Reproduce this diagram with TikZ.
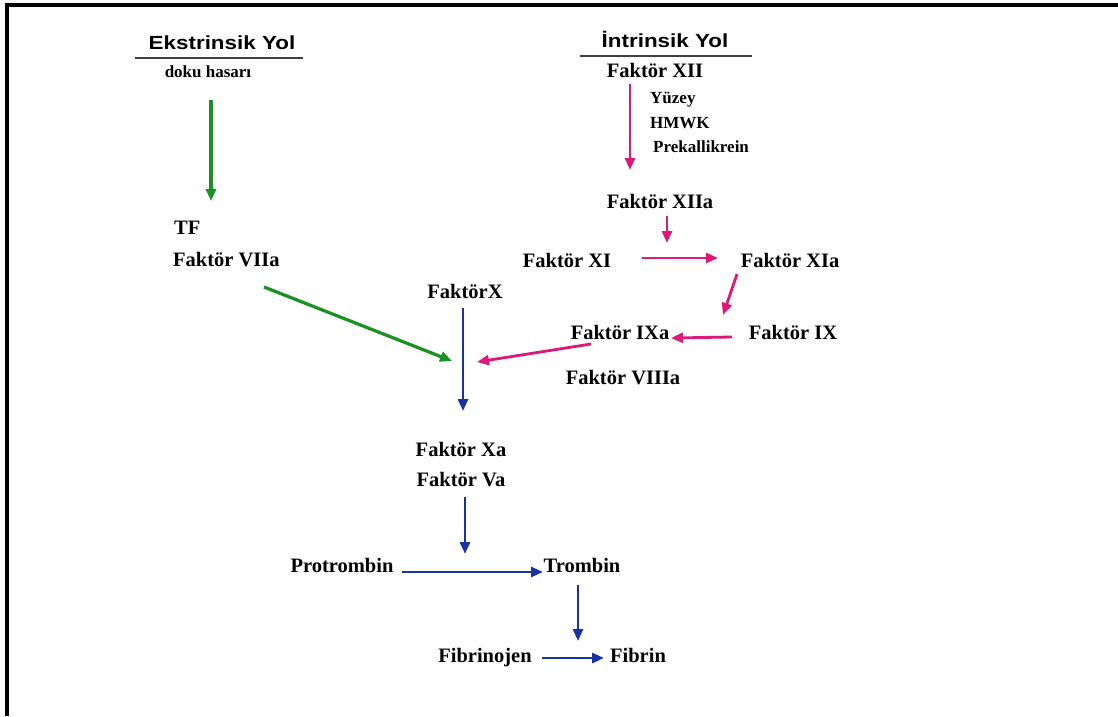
\documentclass[tikz,border=0pt]{standalone}
\usepackage{fontspec}
\setmainfont{Liberation Serif}
\newfontfamily\hdfont[FakeStretch=1.18]{Liberation Sans}
\usetikzlibrary{arrows.meta}
\definecolor{gcol}{RGB}{25,145,35}
\definecolor{mcol}{RGB}{220,25,120}
\definecolor{bcol}{RGB}{25,50,165}
\tikzset{
  lbl/.style={inner sep=0pt, font=\fontsize{20.5}{24}\selectfont\bfseries, text height=14pt, text depth=4pt},
  sml/.style={inner sep=0pt, font=\fontsize{17}{20}\selectfont\bfseries, text height=12pt, text depth=3.5pt},
  hdr/.style={inner sep=0pt, font=\hdfont\fontsize{19}{22}\selectfont\bfseries, text height=13pt, text depth=4pt},
  tip/.style={-{Triangle[length=12pt,width=10pt]}},
  garrow/.style={tip, draw=gcol, fill=gcol, line width=3.2pt},
  marrow/.style={tip, draw=mcol, fill=mcol, line width=2.8pt},
  barrow/.style={tip, draw=bcol, fill=bcol, line width=2.8pt},
  uline/.style={draw=black!75, line width=2.6pt},
}
\begin{document}
\begin{tikzpicture}[x=1pt,y=-1pt]
\useasboundingbox (0,0) rectangle (1118,716);
\fill[white] (0,0) rectangle (1118,716);
% frame
\draw[line width=4pt] (7,716) -- (7,5) -- (1118,5);

% headers
\node[hdr] (ekh) at (222,45) {Ekstrinsik Yol};
\coordinate (ekl1) at (135,58); \coordinate (ekl2) at (303,58);
\draw[uline] (ekl1) -- (ekl2);
\node[sml] (ekd) at (208,73) {doku hasarı};

\node[hdr] (inh) at (665,43) {İntrinsik Yol};
\coordinate (inl1) at (580,56); \coordinate (inl2) at (752,56);
\draw[uline] (inl1) -- (inl2);
\node[lbl] (f12) at (655,72) {Faktör XII};
\node[sml, anchor=west] (yuz) at (650,99) {Yüzey};
\node[sml, anchor=west] (hmwk) at (650,124) {HMWK};
\node[sml, anchor=west] (prek) at (653,148) {Prekallikrein};

% extrinsic
\node[lbl, anchor=west] (tf) at (174,229) {TF};
\node[lbl, anchor=west] (f7) at (173,261) {Faktör VIIa};

% intrinsic
\node[lbl] (f12a) at (660,203) {Faktör XIIa};
\node[lbl] (f11) at (567,262) {Faktör XI};
\node[lbl] (f11a) at (790,262) {Faktör XIa};
\node[lbl] (f9) at (793,334) {Faktör IX};
\node[lbl] (f9a) at (620,334) {Faktör IXa};
\node[lbl] (f8a) at (623,379) {Faktör VIIIa};

% common
\node[lbl] (fX) at (465,293) {FaktörX};
\node[lbl] (fXa) at (461,451) {Faktör Xa};
\node[lbl] (fVa) at (461,481) {Faktör Va};
\node[lbl] (pro) at (342,567) {Protrombin};
\node[lbl] (tro) at (582,567) {Trombin};
\node[lbl] (fbj) at (485,657) {Fibrinojen};
\node[lbl] (fbr) at (638,657) {Fibrin};

% connector end points
\coordinate (ekd-o) at (211,100); \coordinate (tf-i) at (211,201);
\coordinate (f7-o) at (264,287); \coordinate (fX-l) at (452,361);
\coordinate (f12-o) at (630,84); \coordinate (f12a-i) at (630,170);
\coordinate (f12a-o) at (667,216); \coordinate (f11-m) at (667,243);
\coordinate (f11-o) at (642,258); \coordinate (f11a-i) at (718,258);
\coordinate (f11a-o) at (737,274); \coordinate (f9a-t) at (723,315);
\coordinate (f9-o) at (732,337); \coordinate (f9a-i) at (671,338);
\coordinate (f9a-o) at (591,344); \coordinate (fX-r) at (477,362);
\coordinate (fX-o) at (463,308); \coordinate (fXa-i) at (463,411);
\coordinate (fVa-o) at (465,497); \coordinate (pro-m) at (465,554);
\coordinate (pro-o) at (402,572); \coordinate (tro-i) at (543,572);
\coordinate (tro-o) at (578,585); \coordinate (fbj-m) at (578,641);
\coordinate (fbj-o) at (542,658); \coordinate (fbr-i) at (604,658);

% green
\draw[garrow] (ekd-o) -- (tf-i);
\draw[garrow] (f7-o) -- (fX-l);
% magenta
\draw[marrow] (f12-o) -- (f12a-i);
\draw[marrow] (f12a-o) -- (f11-m);
\draw[marrow] (f11-o) -- (f11a-i);
\draw[marrow] (f11a-o) -- (f9a-t);
\draw[marrow] (f9-o) -- (f9a-i);
\draw[marrow] (f9a-o) -- (fX-r);
% blue
\draw[barrow] (fX-o) -- (fXa-i);
\draw[barrow] (fVa-o) -- (pro-m);
\draw[barrow] (pro-o) -- (tro-i);
\draw[barrow] (tro-o) -- (fbj-m);
\draw[barrow] (fbj-o) -- (fbr-i);
\end{tikzpicture}
\end{document}
